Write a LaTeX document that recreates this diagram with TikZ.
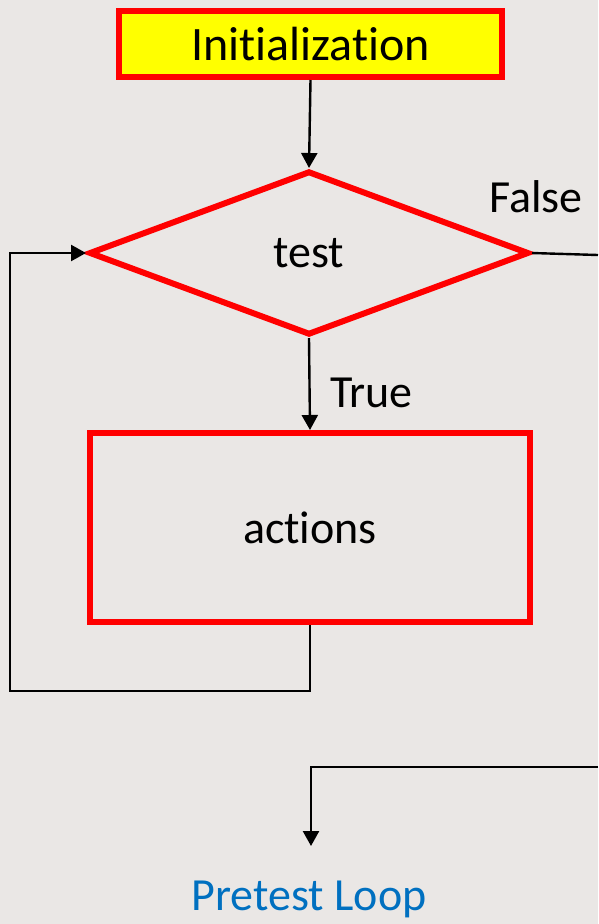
\documentclass[tikz,border=0pt]{standalone}
\usepackage{fontspec}
\setmainfont{Carlito}[Ligatures={NoCommon}]
\usetikzlibrary{shapes.geometric,arrows.meta}
\definecolor{bgc}{RGB}{234,231,229}
\definecolor{redc}{RGB}{255,0,0}
\definecolor{yelc}{RGB}{255,255,0}
\definecolor{bluec}{RGB}{0,112,192}
\tikzset{
  bigtext/.style={font=\fontsize{46}{50}\selectfont, text=black},
  initbox/.style={draw=redc, line width=6pt, fill=yelc, inner sep=0pt, minimum width=383pt, minimum height=66pt, font=\fontsize{48}{52}\selectfont, text=black},
  testbox/.style={diamond, draw=redc, line width=6pt, inner sep=0pt, minimum width=440pt, minimum height=164pt, bigtext},
  actbox/.style={draw=redc, line width=6pt, inner sep=0pt, minimum width=440pt, minimum height=189pt, bigtext},
  conn/.style={draw=black, line width=2.4pt},
  arr/.style={conn, -{Triangle[width=16pt,length=15pt]}},
  lbl/.style={bigtext, inner sep=0pt},
  title/.style={font=\fontsize{46}{50}\selectfont, text=bluec, inner sep=0pt}
}
\begin{document}
\begin{tikzpicture}[x=1pt,y=-1pt]
\fill[bgc] (0,0) rectangle (598,924);
\useasboundingbox (0,0) rectangle (598,924);
\node[initbox] (init) at (310.5,44) {Initialization};
\node[testbox] (test) at (309,253) {test};
\node[actbox] (act) at (310,527.5) {actions};
\node[lbl, anchor=base west] (false) at (489,212) {False};
\node[lbl, anchor=base west] (true) at (330,407) {True};
\node[title, anchor=base] (pt) at (309,910) {Pretest Loop};
\coordinate (fr) at (598,255);
\coordinate (lr) at (310,691);
\coordinate (ll) at (10,691);
\coordinate (er) at (598,767);
\coordinate (ec) at (311,767);
\coordinate (ee) at (311,846);
\draw[arr] (init.south) -- (test.north);
\draw[arr] (test.south) -- (act.north);
\draw[conn] (test.east) -- (fr);
\draw[arr] (act.south) -- (lr) -- (ll) |- (test.west);
\draw[arr] (er) -- (ec) -- (ee);
\end{tikzpicture}
\end{document}
